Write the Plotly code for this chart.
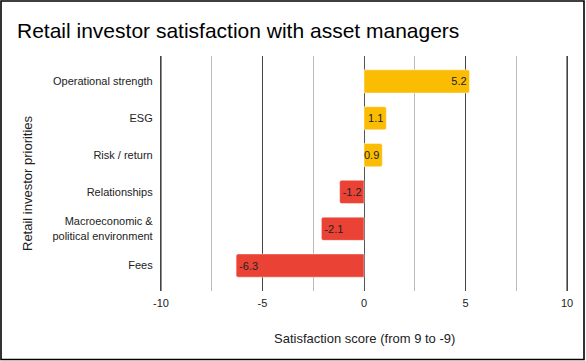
import plotly.graph_objects as go

categories = ["Operational strength", "ESG", "Risk / return", "Relationships",
              "Macroeconomic &<br>political environment", "Fees"]
values = [5.2, 1.1, 0.9, -1.2, -2.1, -6.3]
labels = ["5.2", "1.1", "0.9", "-1.2", "-2.1", "-6.3"]
x_ticks = [-10, -5, 0, 5, 10]
x_minor = [-7.5, -2.5, 2.5, 7.5]

POS = "#FBBC04"
NEG = "#EA4335"
colors = [POS if v >= 0 else NEG for v in values]
FONT = "Arial, Liberation Sans, sans-serif"
TXT = "#222222"
MAJOR = "#444444"

W, H = 586, 361
L, R, T, B = 161, 19, 56, 70
pw, ph = W - L - R, H - T - B

def px_x(p):
    return (p - L) / pw

def px_y(p):
    return (H - B - p) / ph

fig = go.Figure(go.Bar(
    x=values, y=categories, orientation="h",
    marker=dict(color=colors, line=dict(color="rgba(255,255,255,0.45)", width=1), cornerradius=2),
    width=0.63,
    text=labels, textposition="inside", insidetextanchor="end", textangle=0,
    constraintext="none", cliponaxis=False,
    textfont=dict(family=FONT, size=11, color=TXT),
    hoverinfo="skip",
))

# edge gridlines (at the first and last x tick = plot edges)
edge_lines = [dict(type="line", xref="paper", yref="paper", x0=e, x1=e, y0=0, y1=1,
                   line=dict(color=MAJOR, width=1.2), layer="above")
              for e in (0, 1)]

fig.update_layout(
    width=W, height=H,
    margin=dict(l=L, r=R, t=T, b=B),
    paper_bgcolor="white", plot_bgcolor="white",
    font=dict(family=FONT, color=TXT),
    showlegend=False,
    title=dict(text="Retail investor satisfaction with asset managers",
               font=dict(family=FONT, size=21, color="#000000"),
               x=17 / W, xref="container", xanchor="left",
               y=1 - 31 / H, yref="container", yanchor="middle"),
    xaxis=dict(range=[x_ticks[0], x_ticks[-1]], tickvals=x_ticks,
               ticktext=[str(v) for v in x_ticks],
               showgrid=True, gridcolor=MAJOR, gridwidth=1.2,
               zeroline=True, zerolinecolor="#555555", zerolinewidth=1.2,
               minor=dict(tickvals=x_minor, showgrid=True,
                          gridcolor="#bbbbbb", gridwidth=1.2),
               showline=False, ticks="", ticklabelstandoff=4,
               tickfont=dict(family=FONT, size=11, color=TXT),
               fixedrange=True),
    yaxis=dict(categoryorder="array", categoryarray=categories,
               autorange=False, range=[5.69, -0.69],
               showgrid=False, zeroline=False,
               showline=True, mirror=True, linecolor=MAJOR, linewidth=1.2,
               ticks="", ticklabelstandoff=5,
               tickfont=dict(family=FONT, size=11, color=TXT),
               fixedrange=True),
    annotations=[
        dict(text="Satisfaction score (from 9 to -9)", xref="paper", yref="paper",
             x=px_x(364), y=px_y(338), xanchor="center", yanchor="middle",
             showarrow=False, font=dict(family=FONT, size=13, color=TXT)),
        dict(text="Retail investor priorities", xref="paper", yref="paper",
             x=px_x(27), y=px_y(183), xanchor="center", yanchor="middle",
             textangle=-90, showarrow=False,
             font=dict(family=FONT, size=13, color=TXT)),
    ],
    shapes=edge_lines + [dict(type="rect", xref="paper", yref="paper",
                 x0=px_x(1), x1=px_x(584), y0=px_y(359.5), y1=px_y(1),
                 line=dict(color="black", width=1.6), layer="above")],
)

fig.write_html("out.html", config={"displayModeBar": False},
               post_script="document.body.style.margin='0';document.body.style.overflow='hidden';")
